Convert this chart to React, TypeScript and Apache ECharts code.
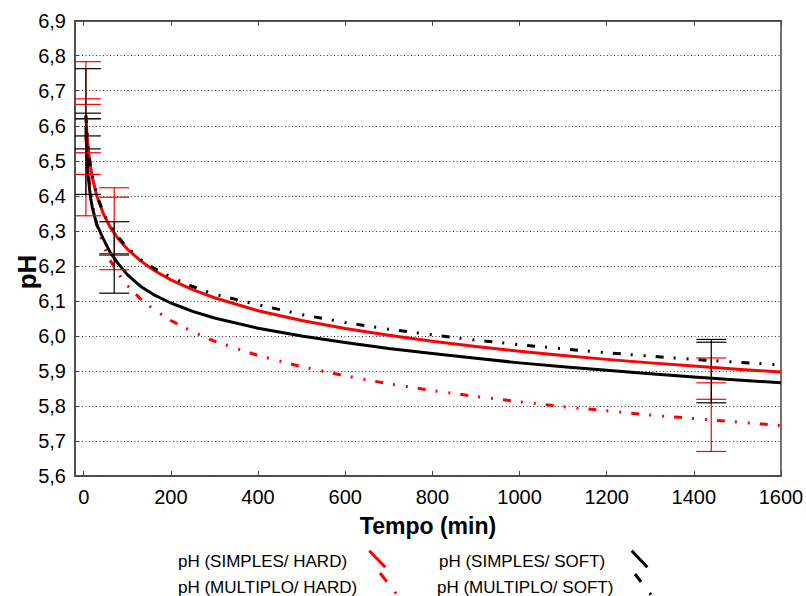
import React, { useEffect, useRef } from "react";
import * as echarts from "echarts";

// ---- Data ----
const timeMin = [5, 7, 10, 15, 20, 30, 45, 60, 80, 100, 130, 160, 200, 250, 300, 400, 500, 600, 700, 800, 900, 1000, 1100, 1200, 1300, 1400, 1500, 1600];

const phSimplesHard = [6.627, 6.584, 6.539, 6.488, 6.451, 6.400, 6.349, 6.312, 6.276, 6.248, 6.215, 6.188, 6.160, 6.132, 6.109, 6.072, 6.044, 6.021, 6.002, 5.985, 5.970, 5.956, 5.944, 5.933, 5.923, 5.914, 5.905, 5.897];
const phMultiploHard = [6.575, 6.527, 6.475, 6.417, 6.375, 6.317, 6.259, 6.217, 6.176, 6.144, 6.106, 6.076, 6.044, 6.012, 5.985, 5.944, 5.912, 5.886, 5.863, 5.844, 5.827, 5.812, 5.798, 5.786, 5.774, 5.764, 5.754, 5.744];
const phSimplesSoft = [6.600, 6.520, 6.460, 6.400, 6.365, 6.318, 6.277, 6.240, 6.205, 6.175, 6.142, 6.118, 6.094, 6.070, 6.051, 6.022, 6.000, 5.981, 5.964, 5.950, 5.936, 5.923, 5.912, 5.902, 5.892, 5.883, 5.874, 5.866];
const phMultiploSoft = [6.630, 6.587, 6.541, 6.490, 6.453, 6.402, 6.352, 6.316, 6.281, 6.252, 6.219, 6.194, 6.168, 6.141, 6.119, 6.089, 6.061, 6.038, 6.019, 6.003, 5.988, 5.975, 5.963, 5.952, 5.942, 5.933, 5.925, 5.917];

// error bar positions and the cap levels visible at each one
const errTimes = [5, 70, 1440];
const redCaps = [
  [6.783, 6.677, 6.661, 6.62, 6.523, 6.461, 6.343],
  [6.423, 6.396, 6.235, 6.189],
  [5.937, 5.866, 5.819, 5.670],
];
const blackCaps = [
  [6.763, 6.636, 6.620, 6.571, 6.534, 6.404],
  [6.326, 6.231, 6.122],
  [5.990, 5.982, 5.809],
];

const xTicks = [0, 200, 400, 600, 800, 1000, 1200, 1400, 1600];
const legendNames = ["pH (SIMPLES/ HARD)", "pH (MULTIPLO/ HARD)", "pH (SIMPLES/ SOFT)", "pH (MULTIPLO/ SOFT)"];

const FONT = "'Liberation Sans', Arial, Helvetica, sans-serif";
const RED = "#ff0000";
const BLACK = "#000000";
const DASHDOT = [8, 10, 2, 11, 2, 10];

function pairs(ys: number[]) {
  return timeMin.map((t, i) => [t, ys[i]]);
}

function errRows(caps: number[][]) {
  const rows: number[][] = [];
  errTimes.forEach((t, i) => {
    const lv = caps[i];
    rows.push([t, Math.min(...lv), Math.max(...lv), 0]);
    lv.forEach((v) => rows.push([t, v, v, 1]));
  });
  return rows;
}

function errSeries(name: string, caps: number[][], color: string, z: number) {
  return {
    name,
    type: "custom",
    z,
    data: errRows(caps),
    encode: { x: 0, y: [1, 2] },
    renderItem: (params: any, api: any) => {
      const kind = api.value(3);
      const t = api.value(0);
      const p1 = api.coord([t, api.value(1)]);
      const p2 = api.coord([t, api.value(2)]);
      const cs = params.coordSys;
      if (kind === 0) {
        return {
          type: "line",
          shape: { x1: p1[0], y1: p1[1], x2: p2[0], y2: p2[1] },
          style: { stroke: color, lineWidth: 1.2 },
        };
      }
      const l = Math.max(cs.x, p1[0] - 15);
      const r = Math.min(cs.x + cs.width, p1[0] + 15);
      return {
        type: "line",
        shape: { x1: l, y1: p1[1], x2: r, y2: p1[1] },
        style: { stroke: color, lineWidth: 1.2 },
      };
    },
  };
}

function lineSeries(name: string, ys: number[], color: string, dashed: boolean, z: number) {
  return {
    name,
    type: "line",
    z,
    data: pairs(ys),
    showSymbol: false,
    symbol: "none",
    smooth: false,
    lineStyle: { color, width: 3, type: dashed ? DASHDOT : "solid", cap: "butt", join: "round" },
  };
}

export default function App() {
  const ref = useRef<HTMLDivElement>(null);
  useEffect(() => {
    if (!ref.current) return;
    const chart = echarts.init(ref.current, null, { renderer: "svg" });
    chart.setOption({
      animation: false,
      backgroundColor: "#ffffff",
      textStyle: { fontFamily: FONT },
      grid: {
        left: 75,
        right: 25,
        top: 20.7,
        bottom: 120,
        show: true,
        borderColor: "#444",
        borderWidth: 1.5,
        outerBoundsMode: "none",
      },
      xAxis: [
        {
          type: "value",
          min: -20,
          max: 1600,
          name: "Tempo (min)",
          nameLocation: "middle",
          nameGap: 38,
          nameTextStyle: { fontSize: 23, fontWeight: "bold", color: "#000", fontFamily: FONT },
          axisLine: { show: true, onZero: false, lineStyle: { color: "#444", width: 1.5 } },
          axisTick: { show: true, inside: true, length: 5, customValues: xTicks, lineStyle: { color: "#444" } },
          axisLabel: {
            customValues: xTicks,
            fontSize: 20,
            color: "#000",
            margin: 11,
            fontFamily: FONT,
            formatter: (v: number) => String(v),
          },
          splitLine: { show: false },
        },
        {
          type: "value",
          position: "top",
          min: -20,
          max: 1600,
          axisLine: { show: true, onZero: false, lineStyle: { color: "#444", width: 1.5 } },
          axisTick: { show: true, inside: true, length: 5, customValues: xTicks, lineStyle: { color: "#444" } },
          axisLabel: { show: false },
          splitLine: { show: false },
        },
      ],
      yAxis: {
        type: "value",
        min: 5.6,
        max: 6.9,
        interval: 0.1,
        axisLine: { show: true, onZero: false, lineStyle: { color: "#444", width: 1.5 } },
        axisTick: { show: true, inside: true, length: 4, lineStyle: { color: "#444" } },
        axisLabel: {
          fontSize: 20,
          color: "#000",
          margin: 9,
          fontFamily: FONT,
          formatter: (v: number) => v.toFixed(1).replace(".", ","),
        },
        splitLine: { show: true, lineStyle: { color: "#333", width: 1, type: [1, 2.5] } },
      },
      series: [
        lineSeries(legendNames[1], phMultiploHard, RED, true, 2),
        lineSeries(legendNames[0], phSimplesHard, RED, false, 3),
        lineSeries(legendNames[2], phSimplesSoft, BLACK, false, 4),
        lineSeries(legendNames[3], phMultiploSoft, BLACK, true, 5),
        errSeries("err red", redCaps, RED, 6),
        errSeries("err black", blackCaps, BLACK, 7),
      ],
      graphic: [
        {
          type: "text",
          x: 27,
          y: 272,
          rotation: Math.PI / 2,
          style: { text: "pH", font: `bold 26px ${FONT}`, fill: "#000", align: "center", verticalAlign: "middle" },
        },
        { type: "text", x: 178, y: 561.5, style: { text: legendNames[0], font: `17px ${FONT}`, fill: "#000", align: "left", verticalAlign: "middle" } },
        { type: "text", x: 178, y: 587, style: { text: legendNames[1], font: `17px ${FONT}`, fill: "#000", align: "left", verticalAlign: "middle" } },
        { type: "text", x: 439, y: 561.5, style: { text: legendNames[2], font: `17px ${FONT}`, fill: "#000", align: "left", verticalAlign: "middle" } },
        { type: "text", x: 437, y: 587, style: { text: legendNames[3], font: `17px ${FONT}`, fill: "#000", align: "left", verticalAlign: "middle" } },
        { type: "line", shape: { x1: 369.3, y1: 550.7, x2: 385.3, y2: 567.3 }, style: { stroke: RED, lineWidth: 3 } },
        { type: "line", shape: { x1: 380, y1: 573, x2: 398, y2: 596 }, style: { stroke: RED, lineWidth: 3, lineDash: [11, 13, 2, 30] } },
        { type: "line", shape: { x1: 631.7, y1: 550.7, x2: 647.3, y2: 567.3 }, style: { stroke: BLACK, lineWidth: 3 } },
        { type: "line", shape: { x1: 635, y1: 574, x2: 652, y2: 596 }, style: { stroke: BLACK, lineWidth: 3, lineDash: [10, 14, 2, 30] } },
      ],
    });
    return () => chart.dispose();
  }, []);
  return <div ref={ref} style={{ position: "fixed", left: 0, top: 0, width: 806, height: 596 }} />;
}
